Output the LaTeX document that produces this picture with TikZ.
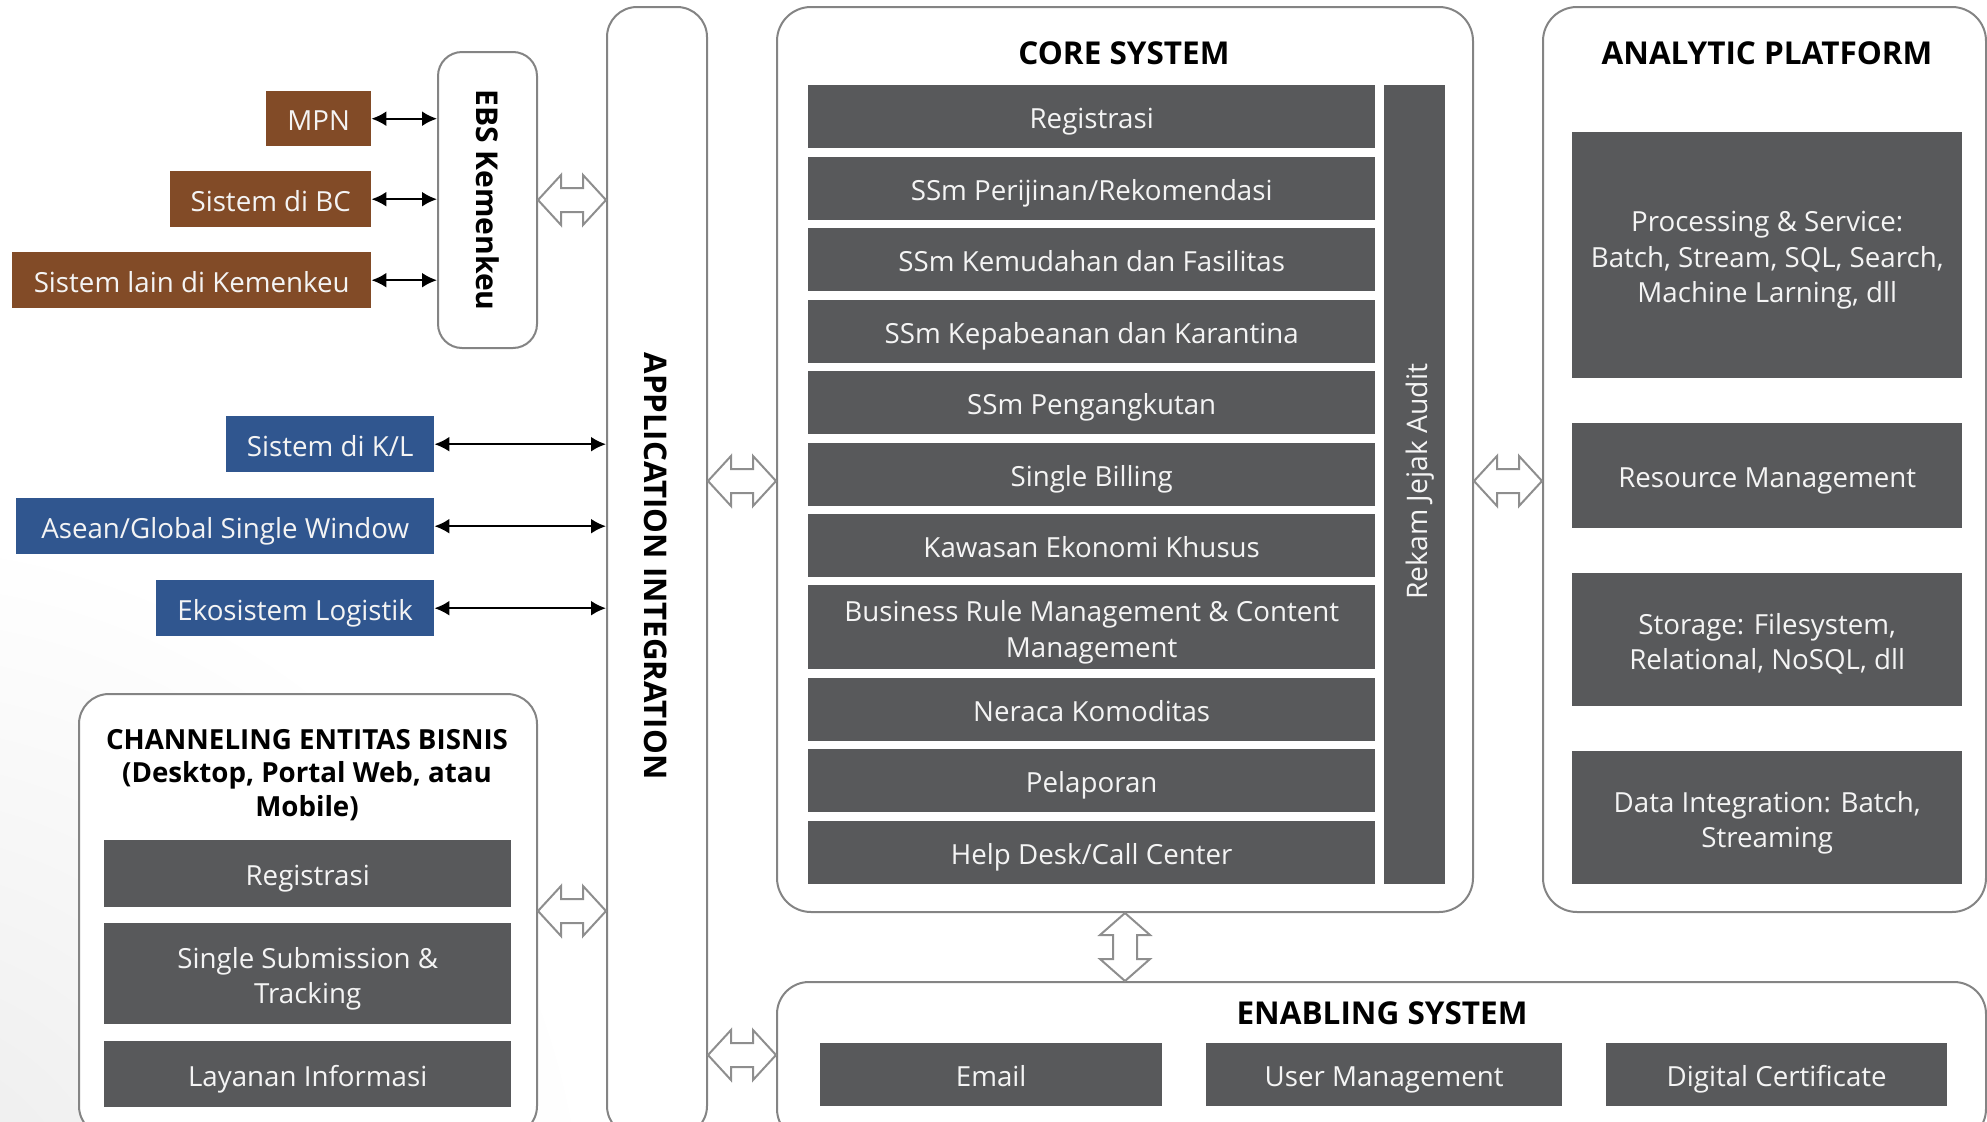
\documentclass[tikz,border=0pt]{standalone}
\usepackage{fontspec}
\setmainfont{Open Sans}
\usetikzlibrary{arrows.meta,calc}
\definecolor{boxgray}{HTML}{58595B}
\definecolor{brownbox}{HTML}{824B27}
\definecolor{bluebox}{HTML}{30568F}
\definecolor{outl}{HTML}{848484}
\definecolor{arrout}{HTML}{8E8E8E}
\definecolor{txtw}{HTML}{F4F4F4}
% box by corners: fill node plus centred text node (name + "t")
\newcommand\rbox[7]{\node[#6, anchor=north west, minimum width=\dimexpr #4pt-#2pt\relax, minimum height=\dimexpr #5pt-#3pt\relax] (#1) at (#2,#3) {};
  \node[itemtext, yshift=-5pt] (#1t) at (#1.center) {#7};}
\newcommand\hdbl[2]{\path[dbl] let \p1=#1, \p2=#2 in (\x1,\y1) -- (\x1+23pt,\y1+25pt) -- (\x1+23pt,\y1+12pt) -- (\x2-23pt,\y1+12pt) -- (\x2-23pt,\y1+25pt) -- (\x2,\y1) -- (\x2-23pt,\y1-25pt) -- (\x2-23pt,\y1-12pt) -- (\x1+23pt,\y1-12pt) -- (\x1+23pt,\y1-25pt) -- cycle;}
\newcommand\vdbl[2]{\path[dbl] let \p1=#1, \p2=#2 in (\x1,\y1) -- (\x1+25pt,\y1-22pt) -- (\x1+12pt,\y1-22pt) -- (\x1+12pt,\y2+22pt) -- (\x1+25pt,\y2+22pt) -- (\x1,\y2) -- (\x1-25pt,\y2+22pt) -- (\x1-12pt,\y2+22pt) -- (\x1-12pt,\y1-22pt) -- (\x1-25pt,\y1-22pt) -- cycle;}
\begin{document}
\begin{tikzpicture}[x=1pt,y=-1pt,
  frame/.style={draw=outl, line width=2pt, fill=white, rounded corners=34pt, inner sep=0pt},
  item/.style={fill=boxgray, inner sep=0pt},
  itemtext/.style={text=txtw, align=center, inner sep=0pt, font=\fontsize{27.7}{35.5}\selectfont,
    execute at begin node=\vphantom{Ahg}, execute at end node=\vphantom{Ahg}},
  brown/.style={item, fill=brownbox},
  blue/.style={item, fill=bluebox},
  title/.style={font=\bfseries\fontsize{31.5}{36}\selectfont, text=black, inner sep=0pt, align=center},
  conn/.style={{Latex[length=15pt,width=15pt]}-{Latex[length=15pt,width=15pt]}, line width=2.3pt, black},
  dbl/.style={draw=arrout, line width=2pt, fill=white, line join=miter}]
\useasboundingbox (0,0) rectangle (1987,1122);
\clip (0,0) rectangle (1987,1122);
\shade[inner color=gray!16, outer color=white] (-120,1250) circle (720);
% frames
\node[frame, rounded corners=24pt, anchor=north west, minimum width=99pt, minimum height=296pt] (ebs) at (437,51) {};
\node[frame, rounded corners=30pt, anchor=north west, minimum width=100pt, minimum height=1129pt] (app) at (606,6) {};
\node[frame, anchor=north west, minimum width=696pt, minimum height=905pt] (core) at (776,6) {};
\node[frame, anchor=north west, minimum width=443pt, minimum height=905pt] (ana) at (1542,6) {};
\node[frame, rounded corners=32pt, anchor=north west, minimum width=1209pt, minimum height=159pt] (enab) at (776,981) {};
\node[frame, rounded corners=30pt, anchor=north west, minimum width=458pt, minimum height=442pt] (chan) at (78,693) {};
% vertical labels
\node[font=\bfseries\fontsize{30}{32}\selectfont, rotate=-90, inner sep=0pt] (ebslbl) at (ebs.center) {EBS Kemenkeu};
\node[font=\bfseries\fontsize{31.2}{32}\selectfont, rotate=-90, inner sep=0pt] (applbl) at (656,566) {APPLICATION INTEGRATION};
% external systems
\rbox{mpn}{266}{91}{371}{146}{brown}{MPN}
\rbox{bc}{170}{171}{371}{227}{brown}{Sistem di BC}
\rbox{lain}{12}{252}{371}{308}{brown}{Sistem lain di Kemenkeu}
\rbox{kl}{226}{416}{434}{472}{blue}{Sistem di K/L}
\rbox{asean}{16}{498}{434}{554}{blue}{Asean/Global Single Window}
\rbox{eko}{156}{580}{434}{636}{blue}{Ekosistem Logistik}
\draw[conn] (mpn.east) -- (mpn.east -| ebs.west);
\draw[conn] (bc.east) -- (bc.east -| ebs.west);
\draw[conn] (lain.east) -- (lain.east -| ebs.west);
\draw[conn] (kl.east) -- (kl.east -| app.west);
\draw[conn] (asean.east) -- (asean.east -| app.west);
\draw[conn] (eko.east) -- (eko.east -| app.west);
% core system
\node[title] (coretitle) at (1124,53) {CORE SYSTEM};
\rbox{c1}{808}{85}{1375}{148}{item}{Registrasi}
\rbox{c2}{808}{157}{1375}{220}{item}{SSm Perijinan/Rekomendasi}
\rbox{c3}{808}{228}{1375}{291}{item}{SSm Kemudahan dan Fasilitas}
\rbox{c4}{808}{300}{1375}{363}{item}{SSm Kepabeanan dan Karantina}
\rbox{c5}{808}{371}{1375}{434}{item}{SSm Pengangkutan}
\rbox{c6}{808}{443}{1375}{506}{item}{Single Billing}
\rbox{c7}{808}{514}{1375}{577}{item}{Kawasan Ekonomi Khusus}
\rbox{c8}{808}{585}{1375}{669}{item}{Business Rule Management \& Content\\Management}
\rbox{c9}{808}{678}{1375}{741}{item}{Neraca Komoditas}
\rbox{c10}{808}{749}{1375}{812}{item}{Pelaporan}
\rbox{c11}{808}{821}{1375}{884}{item}{Help Desk/Call Center}
\node[item, anchor=north west, minimum width=61pt, minimum height=799pt] (rekam) at (1384,85) {};
\node[text=txtw, font=\fontsize{28.3}{32}\selectfont, rotate=90, inner sep=0pt] (rekamlbl) at ($(rekam.center)+(5,-3)$) {Rekam Jejak Audit};
% analytic platform
\node[title] (anatitle) at (1767,53) {ANALYTIC PLATFORM};
\rbox{a1}{1572}{132}{1962}{378}{item}{Processing \& Service:\\Batch, Stream, SQL, Search,\\Machine Larning, dll}
\rbox{a2}{1572}{423}{1962}{528}{item}{Resource Management}
\rbox{a3}{1572}{573}{1962}{706}{item}{Storage: Filesystem,\\Relational, NoSQL, dll}
\rbox{a4}{1572}{751}{1962}{884}{item}{Data Integration: Batch,\\Streaming}
% enabling system
\node[title] (enabtitle) at (1382,1013) {ENABLING SYSTEM};
\rbox{e1}{820}{1043}{1162}{1106}{item}{Email}
\rbox{e2}{1206}{1043}{1562}{1106}{item}{User Management}
\rbox{e3}{1606}{1043}{1947}{1106}{item}{Digital Certificate}
% channeling
\node[title, font=\bfseries\fontsize{27.7}{33.8}\selectfont] (chantitle) at (307,775) {CHANNELING ENTITAS BISNIS\\(Desktop, Portal Web, atau\\Mobile)};
\rbox{h1}{104}{840}{511}{907}{item}{Registrasi}
\rbox{h2}{104}{923}{511}{1024}{item}{Single Submission \&\\Tracking}
\rbox{h3}{104}{1041}{511}{1107}{item}{Layanan Informasi}
% double arrows
\coordinate (ya) at (0,481);
\coordinate (yb) at (0,911);
\coordinate (yc) at (0,1055);
\hdbl{(ebs.east)}{(ebs.east -| app.west)}
\hdbl{(app.east |- ya)}{(core.west |- ya)}
\hdbl{(core.east |- ya)}{(ana.west |- ya)}
\hdbl{(chan.east |- yb)}{(app.west |- yb)}
\hdbl{(app.east |- yc)}{(enab.west |- yc)}
\vdbl{(core.south)}{(core.south |- enab.north)}
\end{tikzpicture}
\end{document}
